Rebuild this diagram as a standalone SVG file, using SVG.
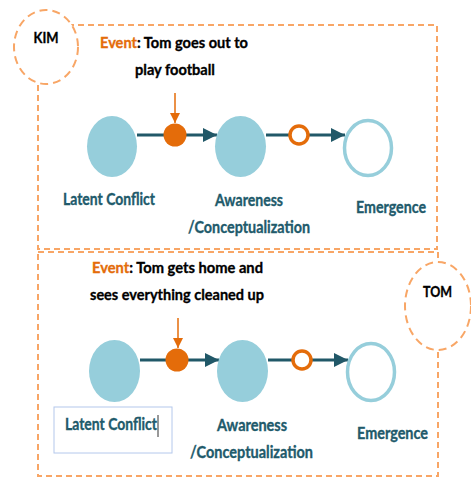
<svg xmlns="http://www.w3.org/2000/svg" width="471" height="479" viewBox="0 0 471 479">
<defs>
<style>
.frame{fill:none;stroke:#F8A666;stroke-width:2;stroke-dasharray:6 4}
.actor{fill:#fff;stroke:#F8A666;stroke-width:2;stroke-dasharray:8 5}
.stage{fill:#96CEDB}
.open{fill:#fff;stroke:#96CEDB;stroke-width:3.5}
.ev{fill:#E46C0A}
.ring{fill:#fff;stroke:#E46C0A;stroke-width:3.5}
.flow{stroke:#215868;stroke-width:3;fill:none}
.drop{stroke:#E46C0A;stroke-width:1.5;fill:none}
text{font-family:Lato,"Liberation Sans",sans-serif;font-weight:bold}
.lbl{fill:#215A6B;stroke:#215A6B;stroke-width:0.35;font-size:17px}
.blk{fill:#000;stroke:#000;stroke-width:0.35;font-size:16px}
.or{fill:#E46C0A;stroke:#E46C0A}
</style>
<marker id="ah" viewBox="0 0 14 14" refX="14" refY="7" markerWidth="14" markerHeight="14" markerUnits="userSpaceOnUse" orient="auto"><path d="M0,0L14,7L0,14z" fill="#215868"/></marker>
<marker id="oh" viewBox="0 0 10 10" refX="10" refY="5" markerWidth="10" markerHeight="10" markerUnits="userSpaceOnUse" orient="auto"><path d="M0,0L10,5L0,10z" fill="#E46C0A"/></marker>
</defs>

<g id="kim-frame">
<rect class="frame" x="38" y="25" width="399" height="224"/>
</g>
<g id="tom-frame">
<rect class="frame" x="38" y="252" width="400" height="224"/>
</g>
<g id="kim">
<ellipse class="actor" cx="46" cy="47" rx="32" ry="37"/>
<text class="blk" x="46" y="43" text-anchor="middle" textLength="25" lengthAdjust="spacingAndGlyphs">KIM</text>
</g>
<g id="tom">
<ellipse class="actor" cx="438" cy="306" rx="33" ry="44"/>
<text class="blk" x="437.5" y="297" text-anchor="middle" textLength="29" lengthAdjust="spacingAndGlyphs">TOM</text>
</g>

<g id="event1">
<text class="blk" x="100" y="48" textLength="148" lengthAdjust="spacingAndGlyphs"><tspan class="or">Event</tspan>: Tom goes out to</text>
<text class="blk" x="135" y="75" textLength="80" lengthAdjust="spacingAndGlyphs">play football</text>
</g>
<g id="event2">
<text class="blk" x="92" y="273" textLength="171" lengthAdjust="spacingAndGlyphs"><tspan class="or">Event</tspan>: Tom gets home and</text>
<text class="blk" x="90" y="300" textLength="174" lengthAdjust="spacingAndGlyphs">sees everything cleaned up</text>
</g>

<g id="connectors">
<line class="flow" x1="137" y1="135" x2="217" y2="135" marker-end="url(#ah)"/>
<line class="flow" x1="266" y1="135" x2="345" y2="135" marker-end="url(#ah)"/>
<line class="drop" x1="175" y1="93" x2="175" y2="123" marker-end="url(#oh)"/>
<line class="flow" x1="140" y1="360" x2="219" y2="360" marker-end="url(#ah)"/>
<line class="flow" x1="268" y1="360" x2="348" y2="360" marker-end="url(#ah)"/>
<line class="drop" x1="178" y1="318" x2="178" y2="348" marker-end="url(#oh)"/>
</g>

<g id="k-latent">
<ellipse class="stage" cx="112" cy="146.5" rx="25" ry="30.5"/>
<text class="lbl" x="63" y="205" textLength="92" lengthAdjust="spacingAndGlyphs">Latent Conflict</text>
</g>
<g id="k-event">
<circle class="ev" cx="175" cy="135" r="11.5"/>
</g>
<g id="k-aware">
<ellipse class="stage" cx="240.5" cy="146.5" rx="25.5" ry="30.5"/>
<text class="lbl" x="215" y="206" textLength="68" lengthAdjust="spacingAndGlyphs">Awareness</text>
<text class="lbl" x="188" y="233" textLength="122" lengthAdjust="spacingAndGlyphs">/Conceptualization</text>
</g>
<g id="k-ring">
<circle class="ring" cx="299" cy="135" r="9"/>
</g>
<g id="k-emerge">
<ellipse class="open" cx="368" cy="148" rx="23.5" ry="27.5"/>
<text class="lbl" x="356" y="213" textLength="70" lengthAdjust="spacingAndGlyphs">Emergence</text>
</g>

<g id="t-latent">
<ellipse class="stage" cx="114.5" cy="371" rx="25.5" ry="31"/>
<rect x="54" y="407" width="118" height="46" fill="none" stroke="#B4C8EC" stroke-width="1"/>
<text class="lbl" x="65" y="430" textLength="92" lengthAdjust="spacingAndGlyphs">Latent Conflict</text>
<line x1="158" y1="415" x2="158" y2="437" stroke="#333" stroke-width="1"/>
</g>
<g id="t-event">
<circle class="ev" cx="177" cy="360" r="11.5"/>
</g>
<g id="t-aware">
<ellipse class="stage" cx="242.5" cy="371" rx="25.5" ry="31"/>
<text class="lbl" x="217" y="431" textLength="70" lengthAdjust="spacingAndGlyphs">Awareness</text>
<text class="lbl" x="190" y="458" textLength="123" lengthAdjust="spacingAndGlyphs">/Conceptualization</text>
</g>
<g id="t-ring">
<circle class="ring" cx="302" cy="360" r="9"/>
</g>
<g id="t-emerge">
<ellipse class="open" cx="371" cy="372" rx="23.5" ry="28.5"/>
<text class="lbl" x="357" y="439" textLength="71" lengthAdjust="spacingAndGlyphs">Emergence</text>
</g>
</svg>
